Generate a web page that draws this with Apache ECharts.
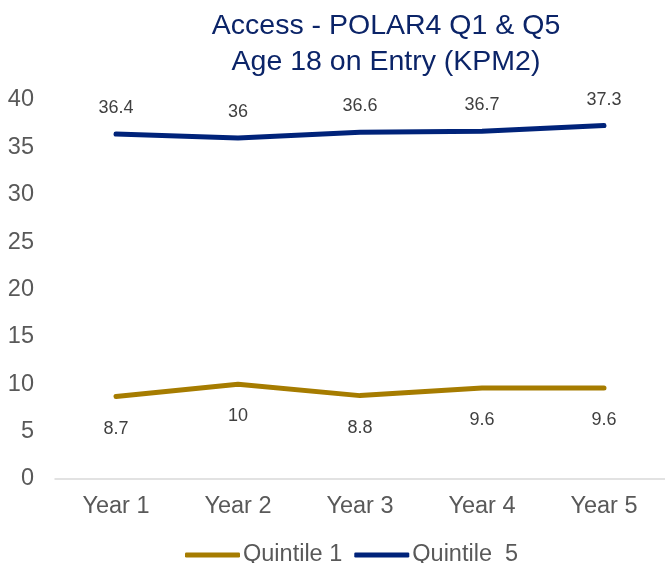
<!DOCTYPE html>
<html><head><meta charset="utf-8">
<script src="https://cdn.jsdelivr.net/npm/echarts@6/dist/echarts.min.js"></script>
<style>html,body{margin:0;padding:0;background:#fff}#c{width:665px;height:563px}</style>
</head><body><div id="c"></div>
<script>
var categories = ['Year 1','Year 2','Year 3','Year 4','Year 5'];
var quintile1 = [8.7, 10, 8.8, 9.6, 9.6];
var quintile5 = [36.4, 36, 36.6, 36.7, 37.3];
var seriesNames = ['Quintile 1', 'Quintile  5'];
var titleText = 'Access - POLAR4 Q1 & Q5\nAge 18 on Entry (KPM2)';

var chart = echarts.init(document.getElementById('c'), null, {renderer:'canvas'});
var font = 'Liberation Sans, Arial, sans-serif';
chart.setOption({
  animation: false,
  title: {
    text: titleText, left: 381, top: 3, textAlign: 'center',
    textStyle: {fontFamily: font, fontSize: 28.5, fontWeight: 'normal', color: '#0b2468', lineHeight: 36}
  },
  grid: {left: 55, top: 100, width: 619, height: 379, containLabel: false},
  legend: {
    left: 180, top: 538, itemWidth: 55, itemHeight: 5, itemGap: 12,
    icon: 'roundRect',
    textStyle: {fontFamily: font, fontSize: 23.5, color: '#595959', padding: [0,0,0,-2]},
    data: seriesNames
  },
  xAxis: {
    type: 'category', data: categories, boundaryGap: true,
    axisLine: {lineStyle: {color: '#d9d9d9', width: 1.5}},
    axisTick: {show: false},
    axisLabel: {fontFamily: font, fontSize: 23.5, color: '#595959', margin: 16}
  },
  yAxis: {
    type: 'value', min: 0, max: 40, interval: 5,
    axisLine: {show: false}, axisTick: {show: false}, splitLine: {show: false},
    axisLabel: {fontFamily: font, fontSize: 23.5, color: '#595959', margin: 21}
  },
  series: [
    {name: seriesNames[0], type: 'line', data: quintile1, symbol: 'circle', symbolSize: 0, showSymbol: true,
     lineStyle: {color: '#a67c00', width: 5, cap: 'round', join: 'round'},
     itemStyle: {color: '#a67c00'},
     label: {show: true, position: 'bottom', distance: 23, fontFamily: font, fontSize: 18, color: '#404040'}},
    {name: seriesNames[1], type: 'line', data: quintile5, symbol: 'circle', symbolSize: 0, showSymbol: true,
     lineStyle: {color: '#00237a', width: 5, cap: 'round', join: 'round'},
     itemStyle: {color: '#00237a'},
     label: {show: true, position: 'top', distance: 17, fontFamily: font, fontSize: 18, color: '#404040'}}
  ]
});
</script></body></html>
